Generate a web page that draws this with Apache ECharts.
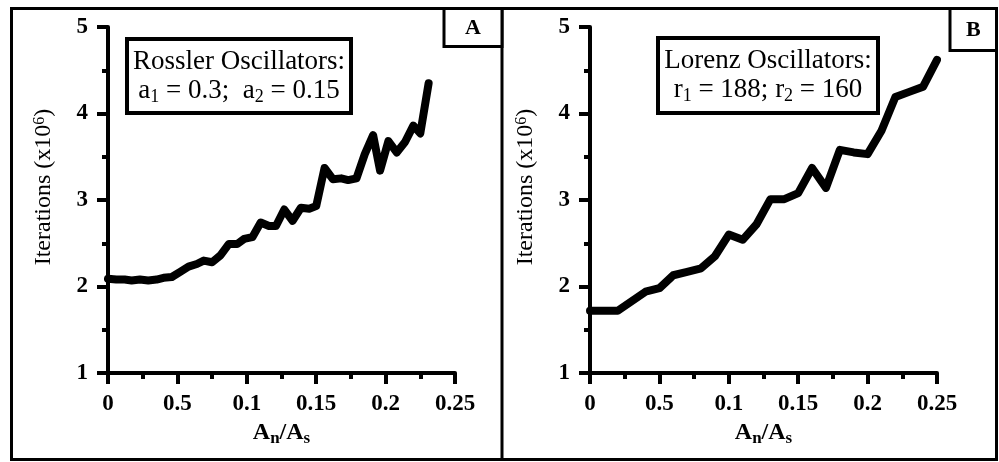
<!DOCTYPE html>
<html>
<head>
<meta charset="utf-8">
<script src="https://cdn.jsdelivr.net/npm/echarts@6/dist/echarts.min.js"></script>
<style>
    html, body { margin: 0; padding: 0; background: #fff; }
    #chart { width: 999px; height: 462px; }
</style>
</head>
<body>
<div id="chart"></div>
<script>
// tick labels as printed in the figure (the "0.5" is in the original)
const xTickLabels = ['0', '0.5', '0.1', '0.15', '0.2', '0.25'];

// Panel A - Rossler oscillators
const rosslerX = [0, 0.006, 0.012, 0.017, 0.023, 0.029, 0.035, 0.040, 0.046, 0.052,
    0.058, 0.064, 0.069, 0.075, 0.081, 0.087, 0.093, 0.098, 0.104, 0.110,
    0.116, 0.121, 0.127, 0.133, 0.139, 0.145, 0.150, 0.156, 0.162, 0.168,
    0.173, 0.179, 0.185, 0.191, 0.196, 0.202, 0.208, 0.214, 0.220, 0.225, 0.231];
const rosslerY = [2.09, 2.08, 2.08, 2.07, 2.08, 2.07, 2.08, 2.10, 2.11, 2.17,
    2.23, 2.26, 2.30, 2.28, 2.36, 2.49, 2.49, 2.55, 2.57, 2.74,
    2.70, 2.70, 2.89, 2.76, 2.91, 2.90, 2.93, 3.37, 3.24, 3.25,
    3.23, 3.25, 3.53, 3.75, 3.34, 3.68, 3.55, 3.67, 3.86, 3.77, 4.35];

// Panel B - Lorenz oscillators
const lorenzX = [0, 0.01, 0.02, 0.03, 0.04, 0.05, 0.06, 0.07, 0.08, 0.09, 0.10, 0.11, 0.12,
    0.13, 0.14, 0.15, 0.16, 0.17, 0.18, 0.19, 0.20, 0.21, 0.22, 0.23, 0.24, 0.25];
const lorenzY = [1.72, 1.72, 1.72, 1.83, 1.94, 1.98, 2.13, 2.17, 2.21, 2.35, 2.60, 2.54, 2.72,
    3.01, 3.01, 3.08, 3.37, 3.14, 3.58, 3.55, 3.53, 3.80, 4.19, 4.25, 4.31, 4.62];

const serif = '"Liberation Serif", "DejaVu Serif", serif';

function pairs(xs, ys) {
    return xs.map((x, i) => [x, ys[i]]);
}

function makeXAxis(gridIndex) {
    return {
        type: 'value',
        gridIndex: gridIndex,
        min: 0,
        max: 0.25,
        interval: 0.05,
        name: '{n|A}{s|n}{n|/A}{s|s}',
        nameLocation: 'middle',
        nameGap: 42,
        nameTextStyle: {
            rich: {
                n: { fontFamily: serif, fontSize: 24, fontWeight: 'bold', color: '#000', lineHeight: 26 },
                s: { fontFamily: serif, fontSize: 17, fontWeight: 'bold', color: '#000', verticalAlign: 'bottom', padding: [12, 0, 0, 0] }
            }
        },
        axisLine: { onZero: false, lineStyle: { color: '#000', width: 4 } },
        axisTick: { show: true, inside: false, length: 11, lineStyle: { color: '#000', width: 4 } },
        minorTick: { show: true, splitNumber: 2, length: 6, lineStyle: { color: '#000', width: 4 } },
        splitLine: { show: false },
        minorSplitLine: { show: false },
        axisLabel: {
            margin: 20,
            color: '#000',
            fontFamily: serif,
            fontSize: 23,
            fontWeight: 'bold',
            formatter: function (v) { return xTickLabels[Math.round(v / 0.05)]; }
        }
    };
}

function makeYAxis(gridIndex) {
    return {
        type: 'value',
        gridIndex: gridIndex,
        min: 1,
        max: 5,
        interval: 1,
        name: '{n|Iterations (x10}{p|6}{n|)}',
        nameLocation: 'middle',
        nameGap: 52,
        nameRotate: 90,
        nameTextStyle: {
            padding: [0, 0, 0, 26],
            rich: {
                n: { fontFamily: serif, fontSize: 24, color: '#000' },
                p: { fontFamily: serif, fontSize: 16, color: '#000', verticalAlign: 'top' }
            }
        },
        axisLine: { onZero: false, lineStyle: { color: '#000', width: 4 } },
        axisTick: { show: true, inside: false, length: 11, lineStyle: { color: '#000', width: 4 } },
        minorTick: { show: true, splitNumber: 2, length: 6, lineStyle: { color: '#000', width: 4 } },
        splitLine: { show: false },
        minorSplitLine: { show: false },
        axisLabel: {
            margin: 20,
            color: '#000',
            fontFamily: serif,
            fontSize: 23,
            fontWeight: 'bold'
        }
    };
}

function makeSeries(idx, data) {
    return {
        type: 'line',
        xAxisIndex: idx,
        yAxisIndex: idx,
        data: data,
        showSymbol: false,
        symbol: 'none',
        lineStyle: { color: '#000', width: 8, join: 'round', cap: 'round' },
        animation: false
    };
}

// annotation box: rectangle plus two lines of text
function noteBox(x, y, w, h, line1, line2) {
    return {
        type: 'group',
        children: [
            {
                type: 'rect',
                shape: { x: x, y: y, width: w, height: h },
                style: { fill: '#fff', stroke: '#000', lineWidth: 4 }
            },
            {
                type: 'text',
                x: x + w / 2,
                y: y + 23,
                style: {
                    text: line1, align: 'center', verticalAlign: 'middle',
                    fontFamily: serif, fontSize: 27, fill: '#000'
                }
            },
            {
                type: 'text',
                x: x + w / 2,
                y: y + 52,
                style: {
                    text: line2, align: 'center', verticalAlign: 'middle',
                    fontFamily: serif, fontSize: 27, fill: '#000',
                    rich: {
                        n: { fontFamily: serif, fontSize: 27, fill: '#000', lineHeight: 30 },
                        s: { fontFamily: serif, fontSize: 18, fill: '#000', verticalAlign: 'bottom', padding: [12, 0, 0, 0] }
                    }
                }
            }
        ]
    };
}

function panelTag(x, y, w, h, letter) {
    return {
        type: 'group',
        children: [
            {
                type: 'rect',
                shape: { x: x, y: y, width: w, height: h },
                style: { fill: '#fff', stroke: '#000', lineWidth: 3 }
            },
            {
                type: 'text',
                x: x + w / 2,
                y: y + h / 2 + 1,
                style: {
                    text: letter, align: 'center', verticalAlign: 'middle',
                    fontFamily: serif, fontSize: 22, fontWeight: 'bold', fill: '#000'
                }
            }
        ]
    };
}

const chart = echarts.init(document.getElementById('chart'));
chart.setOption({
    animation: false,
    backgroundColor: '#fff',
    grid: [
        { left: 108, top: 27, width: 347, height: 346 },
        { left: 590, top: 27, width: 347, height: 346 }
    ],
    xAxis: [makeXAxis(0), makeXAxis(1)],
    yAxis: [makeYAxis(0), makeYAxis(1)],
    series: [
        makeSeries(0, pairs(rosslerX, rosslerY)),
        makeSeries(1, pairs(lorenzX, lorenzY))
    ],
    graphic: [
        {
            type: 'rect',
            shape: { x: 11.5, y: 8.5, width: 985, height: 451 },
            style: { fill: 'none', stroke: '#000', lineWidth: 3 }
        },
        {
            type: 'line',
            shape: { x1: 502, y1: 8, x2: 502, y2: 460 },
            style: { stroke: '#000', lineWidth: 3 }
        },
        panelTag(444, 8.5, 58, 38, 'A'),
        panelTag(950, 8.5, 46.5, 42, 'B'),
        noteBox(127, 39, 224, 74, 'Rossler Oscillators:',
            '{n|a}{s|1}{n| = 0.3;  a}{s|2}{n| = 0.15}'),
        noteBox(658, 38, 220, 75, 'Lorenz Oscillators:',
            '{n|r}{s|1}{n| = 188; r}{s|2}{n| = 160}')
    ]
});
window.addEventListener('resize', chart.resize);
</script>
</body>
</html>
